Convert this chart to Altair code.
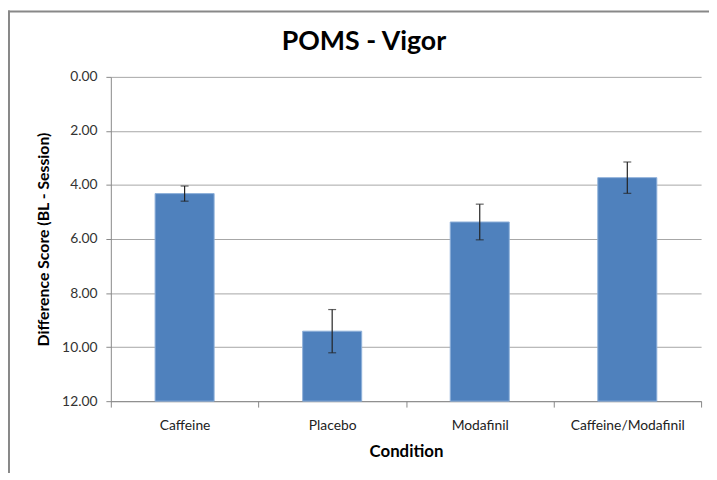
import altair as alt
import pandas as pd

conditions = ["Caffeine", "Placebo", "Modafinil", "Caffeine/Modafinil"]
scores = [4.32, 9.41, 5.37, 3.73]
errors = [0.28, 0.80, 0.66, 0.58]
y_ticks = [0, 2, 4, 6, 8, 10, 12]
axis_base = 12
chart_title = "POMS - Vigor"

df = pd.DataFrame({
    "Condition": conditions,
    "score": scores,
    "lo": [s - e for s, e in zip(scores, errors)],
    "hi": [s + e for s, e in zip(scores, errors)],
})

W, H = 597, 328
FONT = "Lato"

x_enc = alt.X(
    "Condition:N", sort=conditions,
    scale=alt.Scale(paddingInner=0, paddingOuter=0),
    axis=alt.Axis(
        title="Condition", tickBand="extent", labelAngle=0,
        labelFont=FONT, labelFontSize=14, labelColor="#222222", labelPadding=12,
        titleFont=FONT, titleFontSize=17, titleFontWeight="bold", titleColor="#000000",
        titlePadding=11, tickSize=6, tickColor="#888888", domainColor="#888888",
    ),
)
y_scale = alt.Scale(domain=[0, 12], reverse=True)

bars = alt.Chart(df).mark_bar(
    width=alt.RelativeBandSize(0.4), color="#4F81BD", stroke="#8EB0DA", strokeWidth=1
).encode(
    x=x_enc,
    y=alt.Y(
        "score:Q", scale=y_scale,
        axis=alt.Axis(
            values=y_ticks, format=".2f", title="Difference Score  (BL - Session)",
            labelFont=FONT, labelFontSize=14, labelColor="#333333", labelPadding=9,
            titleFont=FONT, titleFontSize=16, titleFontWeight="bold", titleColor="#000000",
            titlePadding=10, tickSize=5, tickColor="#888888", domainColor="#888888",
            gridColor="#A6A6A6", gridWidth=1,
        ),
    ),
    y2=alt.datum(axis_base),
)

err_rule = alt.Chart(df).mark_rule(color="#222222", strokeWidth=1.2).encode(
    x=alt.X("Condition:N", sort=conditions),
    y=alt.Y("lo:Q", scale=y_scale),
    y2="hi:Q",
)
cap_lo = alt.Chart(df).mark_tick(color="#222222", thickness=1.2, size=8, orient="horizontal").encode(
    x=alt.X("Condition:N", sort=conditions),
    y=alt.Y("lo:Q", scale=y_scale),
)
cap_hi = alt.Chart(df).mark_tick(color="#222222", thickness=1.2, size=8, orient="horizontal").encode(
    x=alt.X("Condition:N", sort=conditions),
    y=alt.Y("hi:Q", scale=y_scale),
)

title_df = pd.DataFrame({"t": [chart_title]})
title_mark = alt.Chart(title_df).mark_text(
    font=FONT, fontSize=27, fontWeight="bold", color="#000000",
    align="center", baseline="alphabetic",
).encode(text="t:N", x=alt.value(256), y=alt.value(-27))

border_top = alt.Chart(title_df).mark_rule(color="#888888", strokeWidth=2).encode(
    x=alt.value(-104), x2=alt.value(W + 8), y=alt.value(-66)
)
border_left = alt.Chart(title_df).mark_rule(color="#888888", strokeWidth=2).encode(
    x=alt.value(-103), y=alt.value(-67), y2=alt.value(H + 80)
)

chart = alt.layer(bars, err_rule, cap_lo, cap_hi, title_mark, border_top, border_left).properties(
    width=W, height=H,
    padding={"left": 104, "top": 67, "right": 8, "bottom": 70},
    autosize=alt.AutoSizeParams(type="none"),
).configure_view(stroke=None).configure_axisX(grid=False)

chart.save("out.html", embed_options={"renderer": "svg", "actions": False})
